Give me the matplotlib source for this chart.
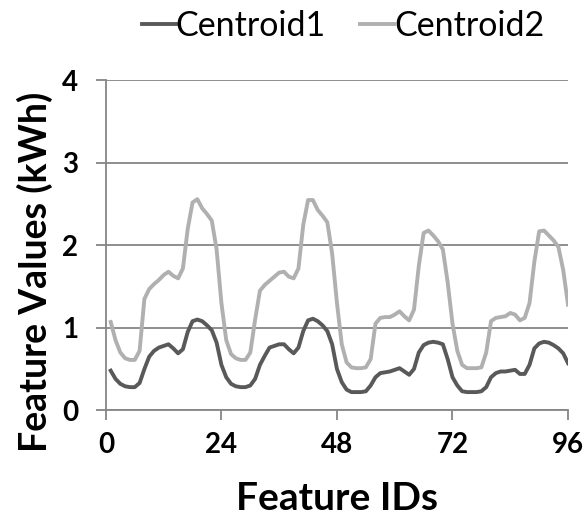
import matplotlib

matplotlib.use("Agg")
import matplotlib.pyplot as plt
import numpy as np

plt.rcParams["font.family"] = ["Lato", "DejaVu Sans"]

# feature ids 1..96 (hourly readings over four days)
feature_ids = np.arange(1, 97)

centroid1 = [
    0.48, 0.38, 0.32, 0.29, 0.28, 0.28, 0.33, 0.50, 0.65, 0.72, 0.76, 0.78,
    0.80, 0.75, 0.69, 0.74, 0.95, 1.08, 1.10, 1.08, 1.03, 0.97, 0.82, 0.55,
    0.40, 0.32, 0.29, 0.28, 0.28, 0.30, 0.38, 0.55, 0.66, 0.76, 0.78, 0.80,
    0.80, 0.74, 0.69, 0.76, 0.96, 1.09, 1.11, 1.08, 1.03, 0.96, 0.80, 0.50,
    0.34, 0.25, 0.22, 0.22, 0.22, 0.23, 0.30, 0.40, 0.45, 0.46, 0.47, 0.49,
    0.51, 0.47, 0.43, 0.50, 0.70, 0.79, 0.82, 0.83, 0.82, 0.80, 0.62, 0.40,
    0.30, 0.23, 0.22, 0.22, 0.22, 0.23, 0.28, 0.40, 0.45, 0.47, 0.47, 0.48,
    0.49, 0.44, 0.44, 0.55, 0.75, 0.81, 0.83, 0.82, 0.79, 0.75, 0.69, 0.57,
]
centroid2 = [
    1.07, 0.85, 0.70, 0.63, 0.61, 0.61, 0.72, 1.35, 1.47, 1.53, 1.58, 1.64,
    1.68, 1.63, 1.60, 1.72, 2.20, 2.52, 2.56, 2.45, 2.38, 2.30, 1.95, 1.30,
    0.85, 0.68, 0.63, 0.61, 0.61, 0.70, 1.10, 1.45, 1.52, 1.57, 1.62, 1.67,
    1.68, 1.62, 1.60, 1.72, 2.25, 2.55, 2.55, 2.43, 2.36, 2.28, 1.90, 1.30,
    0.80, 0.58, 0.52, 0.51, 0.51, 0.52, 0.62, 1.05, 1.12, 1.13, 1.13, 1.16,
    1.20, 1.14, 1.09, 1.22, 1.75, 2.15, 2.18, 2.12, 2.05, 1.95, 1.55, 1.05,
    0.72, 0.55, 0.51, 0.51, 0.51, 0.52, 0.70, 1.08, 1.12, 1.13, 1.14, 1.18,
    1.16, 1.09, 1.12, 1.30, 1.80, 2.17, 2.18, 2.12, 2.06, 1.98, 1.70, 1.28,
]
x_ticks = [0, 24, 48, 72, 96]
y_ticks = [0, 1, 2, 3, 4]

grid_c = "#868686"

fig = plt.figure(figsize=(5.85, 5.16), dpi=100)
ax = fig.add_axes([0.181, 0.205, 0.790, 0.639])

ax.plot(feature_ids, centroid1, color="#595959", lw=2.8, label="Centroid1", zorder=3)
ax.plot(feature_ids, centroid2, color="#b0b0b0", lw=2.8, label="Centroid2", zorder=2)

ax.set_xlim(0, 96)
ax.set_ylim(0, 4)
ax.set_xticks(x_ticks)
ax.set_yticks(y_ticks)
ax.grid(axis="y", color=grid_c, lw=1.3)
ax.set_axisbelow(True)
for s in ["top", "right"]:
    ax.spines[s].set_visible(False)
for s in ["left", "bottom"]:
    ax.spines[s].set_color(grid_c)
    ax.spines[s].set_linewidth(1.3)
ax.tick_params(axis="x", colors=grid_c, width=1.3, length=7, labelcolor="black",
               labelsize=20, pad=9)
ax.tick_params(axis="y", colors=grid_c, width=1.3, length=7, labelcolor="black",
               labelsize=20, pad=13)
for lbl in ax.get_xticklabels() + ax.get_yticklabels():
    lbl.set_fontweight("bold")

ax.set_xlabel("Feature IDs", fontsize=28, fontweight="bold")
ax.set_ylabel("Feature Values (kWh)", fontsize=27, fontweight="bold")
ax.xaxis.set_label_coords(0.5, -0.215)
ax.yaxis.set_label_coords(-0.115, 0.42)

ax.legend(loc="center", bbox_to_anchor=(0.513, 1.165), ncol=2, frameon=False,
          fontsize=24.5, handlelength=1.0, handletextpad=0.0, columnspacing=1.0,
          borderaxespad=0, borderpad=0)

fig.savefig("out.png", dpi=100)
